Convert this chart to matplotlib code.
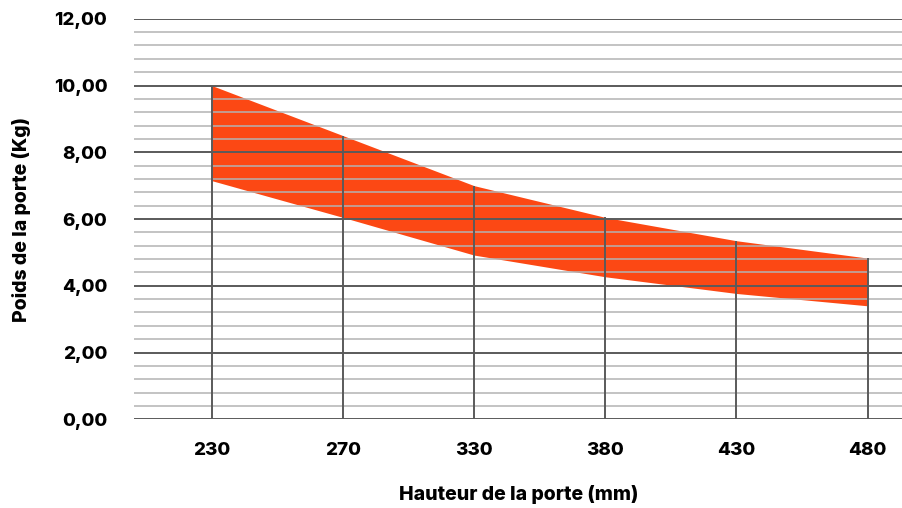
import matplotlib.pyplot as plt
from matplotlib.ticker import MultipleLocator, FuncFormatter

hauteurs = ['230', '270', '330', '380', '430', '480']
poids_max = [10.0, 8.5, 7.0, 6.05, 5.35, 4.83]
poids_min = [7.15, 6.05, 4.92, 4.27, 3.77, 3.40]

orange = '#fc4814'
gris_fonce = '#5a5a5a'
gris_clair = '#b3b3b3'

plt.rcParams['font.family'] = ['Inter', 'DejaVu Sans']
plt.rcParams['font.weight'] = 'heavy'

fig = plt.figure(figsize=(9.03, 5.08), dpi=100)
ax = fig.add_axes([0.148, 0.1746, 0.852, 0.7885])

x = list(range(len(hauteurs)))
ax.fill_between(x, poids_min, poids_max, color=orange, lw=0, zorder=1)
ax.vlines(x, 0, poids_max, color=gris_fonce, lw=1.4, zorder=3)

ax.set_ylim(0, 12)
ax.set_xlim(-0.595, 5.27)
ax.yaxis.set_major_locator(MultipleLocator(2))
ax.yaxis.set_minor_locator(MultipleLocator(0.4))
ax.yaxis.set_major_formatter(FuncFormatter(lambda v, p: f'{v:.2f}'.replace('.', ',')))
ax.set_xticks(x)
ax.set_xticklabels(hauteurs)

ax.set_axisbelow(False)
ax.grid(True, axis='y', which='major', color=gris_fonce, lw=1.4)
ax.grid(True, axis='y', which='minor', color=gris_clair, lw=1.1)
ax.grid(False, axis='x')

for s in ax.spines.values():
    s.set_visible(False)
ax.tick_params(axis='both', which='both', length=0, labelsize=13.5)
ax.tick_params(axis='y', pad=19)
ax.tick_params(axis='x', pad=16)

ax.set_xlabel('Hauteur de la porte (mm)', fontsize=14, fontweight='heavy', labelpad=19)
ax.set_ylabel('Poids de la porte (Kg)', fontsize=14, fontweight='heavy', labelpad=16)

fig.savefig('out.png', dpi=100)
